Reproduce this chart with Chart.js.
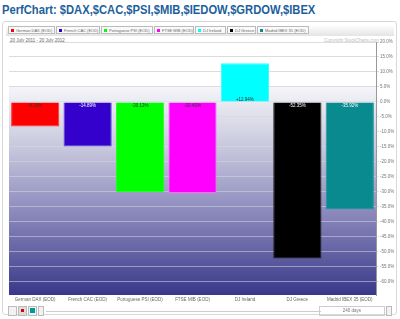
<!DOCTYPE html>
<html>
<head>
<meta charset="utf-8">
<script src="https://cdn.jsdelivr.net/npm/chart.js@4.4.1/dist/chart.umd.min.js"></script>
<style>
  body { margin: 0; background: #fff; font-family: Arial, "Liberation Sans", sans-serif; }
  #wrap { position: relative; width: 400px; height: 319px; overflow: hidden; }
  #title { position: absolute; left: 2px; top: 3px; font-size: 11.2px; font-weight: bold; color: #1d5f9c; white-space: nowrap; transform: scaleY(1.1); transform-origin: top left; }
  #panel { position: absolute; left: 2px; top: 21px; width: 393px; height: 292px; border: 1px solid #d8d8d8; border-radius: 3px; }
  #legend { position: absolute; left: 6px; top: 25px; width: 388px; height: 11px; background: linear-gradient(#fff, #e4e4e4); }
  .li { position: absolute; top: 1px; height: 8px; border: 1px solid #bbb; background: #fafafa; font-size: 4px; color: #666; line-height: 8px; padding-left: 7px; box-sizing: border-box; white-space: nowrap; }
  .li span { position: absolute; left: 2px; top: 2px; width: 3px; height: 3px; }
  #date { position: absolute; left: 10px; top: 38px; font-size: 4.5px; color: #666; }
  #copy { position: absolute; left: 324px; top: 38px; font-size: 4.5px; color: #bbb; }
  #c { position: absolute; left: 0; top: 0; }
  #tools { position: absolute; left: 6px; top: 305px; width: 390px; height: 12px; }
  .ic { position: absolute; top: 1px; width: 7px; height: 8px; border: 1px solid #bbb; background: #f2f2f2; }
  #slider { position: absolute; left: 40px; top: 6px; width: 275px; height: 1px; background: #ccc; }
  #days { position: absolute; left: 313px; top: 1px; width: 64px; height: 8px; border: 1px solid #ccc; font-size: 4.5px; color: #777; text-align: center; line-height: 8px; }
</style>
</head>
<body>
<div id="wrap">
  <div id="title">PerfChart: $DAX,$CAC,$PSI,$MIB,$IEDOW,$GRDOW,$IBEX</div>
  <div id="panel"></div>
  <div id="legend"></div>
  <div id="date">20 July 2011 - 20 July 2012</div>
  <div id="copy">Copyright StockCharts.com</div>
  <canvas id="c" width="400" height="319"></canvas>
  <div id="tools">
    <div class="ic" style="left:2px"></div>
    <div class="ic" style="left:12px;background:#ddd"><span style="position:absolute;left:2px;top:2px;width:3px;height:3px;background:#d00"></span></div>
    <div class="ic" style="left:22px"><span style="position:absolute;left:1px;top:1px;width:5px;height:5px;background:#099"></span></div>
    <div class="ic" style="left:32px;width:4px"></div>
    <div id="slider"></div>
    <div id="days">240 days</div>
    <div class="ic" style="left:380px;width:4px"></div>
  </div>
</div>
<script>
const categories = ['German DAX (EOD)', 'French CAC (EOD)', 'Portuguese PSI (EOD)', 'FTSE MIB (EOD)', 'DJ Ireland', 'DJ Greece', 'Madrid IBEX 35 (EOD)'];
const perfValues = [-8.19, -14.89, -30.13, -30.40, 12.94, -52.35, -35.92];
const barColors = ['#ff0000', '#3300cc', '#00ff00', '#ff00ff', '#00ffff', '#000000', '#088a8f'];
const borderColors = ['#ff3333', '#5a4fe0', '#22ff22', '#ff66ff', '#33ffff', '#222222', '#1c9a9e'];
const labelColors = ['#333', '#fff', '#333', '#333', '#333', '#fff', '#fff'];
const yTicks = [20, 15, 10, 5, 0, -5, -10, -15, -20, -25, -30, -35, -40, -45, -50, -55, -60];

// html legend
const legend = document.getElementById('legend');
const legendX = [2, 50, 95, 148, 189, 221, 251];
const legendW = [47, 44, 52, 40, 31, 29, 52];
categories.forEach((c, i) => {
    const d = document.createElement('div');
    d.className = 'li';
    d.style.left = legendX[i] + 'px';
    d.style.width = legendW[i] + 'px';
    d.innerHTML = '<span style="background:' + barColors[i] + '"></span>' + c;
    legend.appendChild(d);
});

const plotBg = {
    id: 'plotBg',
    beforeDraw(chart) {
        const {ctx, chartArea: a, scales: {y}} = chart;
        const y5 = y.getPixelForValue(5);
        ctx.save();
        ctx.fillStyle = '#ffffff';
        ctx.fillRect(a.left, a.top, a.width, y5 - a.top);
        const g = ctx.createLinearGradient(0, y5, 0, a.bottom);
        g.addColorStop(0, '#f5f5f9');
        g.addColorStop(0.3, '#c6c6dc');
        g.addColorStop(0.6, '#8c8abc');
        g.addColorStop(1, '#38388a');
        ctx.fillStyle = g;
        ctx.fillRect(a.left, y5, a.width, a.bottom - y5);
        ctx.restore();
    }
};

const valueLabels = {
    id: 'valueLabels',
    afterDatasetsDraw(chart) {
        const {ctx, scales: {y}} = chart;
        const meta = chart.getDatasetMeta(0);
        const y0 = y.getPixelForValue(0);
        ctx.save();
        ctx.font = '4.5px Arial';
        ctx.textAlign = 'center';
        meta.data.forEach((bar, i) => {
            const v = perfValues[i];
            ctx.fillStyle = labelColors[i];
            const txt = (v > 0 ? '+' : '') + v.toFixed(2) + '%';
            ctx.fillText(txt, bar.x, v > 0 ? y0 - 1 : y0 + 5);
        });
        ctx.restore();
    }
};

new Chart(document.getElementById('c'), {
    type: 'bar',
    data: {
        labels: categories,
        datasets: [{
            data: perfValues,
            backgroundColor: barColors,
            borderColor: borderColors,
            borderWidth: 1,
            barPercentage: 0.92,
            categoryPercentage: 1
        }]
    },
    options: {
        responsive: false,
        animation: false,
        layout: { padding: { left: 9, top: 42, right: 0, bottom: 0 } },
        plugins: { legend: { display: false }, tooltip: { enabled: false } },
        scales: {
            x: {
                grid: { display: false, drawTicks: false },
                border: { display: false },
                ticks: { color: '#666', font: { size: 4.5 }, maxRotation: 0, autoSkip: false, padding: 2 },
                afterFit(s) { s.height = 24; }
            },
            y: {
                position: 'right',
                min: -64.5,
                max: 20,
                afterBuildTicks(s) { s.ticks = yTicks.map(v => ({value: v})); },
                grid: {
                    color: (c) => c.tick && c.tick.value >= 5 ? '#dcdcdc' : 'rgba(215,215,225,0.55)',
                    drawTicks: true,
                    tickLength: 3
                },
                border: { display: true, color: '#999' },
                ticks: {
                    color: '#777',
                    font: { size: 4.5 },
                    padding: 1,
                    callback: (v) => v.toFixed(1) + '%'
                },
                afterFit(s) { s.width = 24; }
            }
        }
    },
    plugins: [plotBg, valueLabels]
});
</script>
</body>
</html>
